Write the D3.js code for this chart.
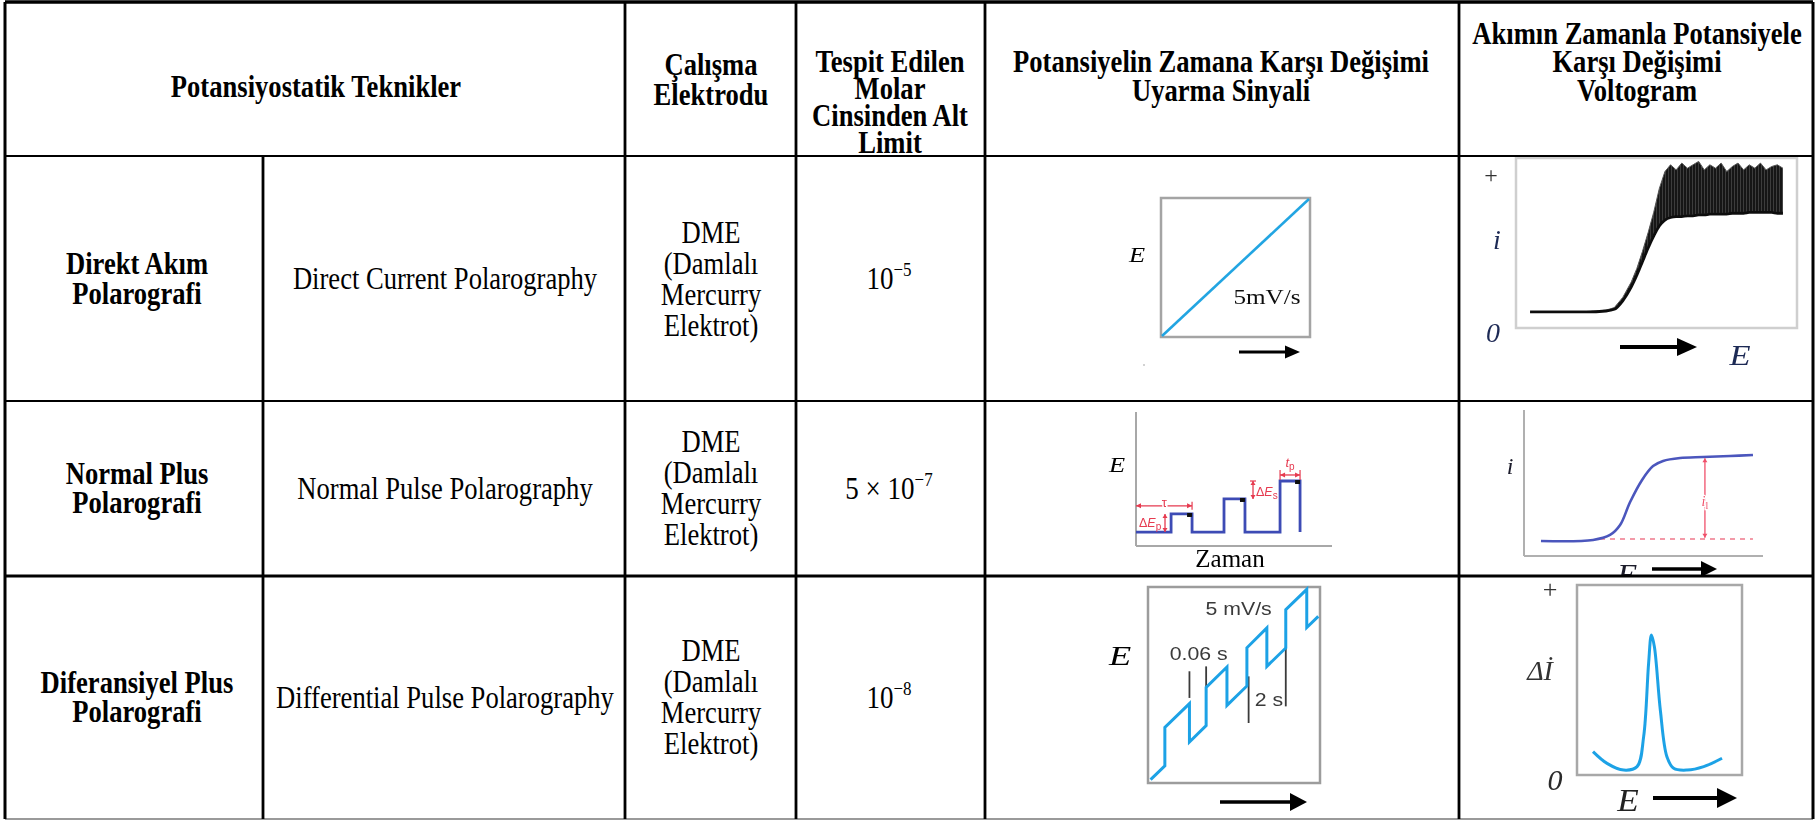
<!DOCTYPE html>
<html>
<head>
<meta charset="utf-8">
<script src="https://cdn.jsdelivr.net/npm/d3@7"></script>
<style>
  html, body { margin: 0; padding: 0; background: #fff; }
  svg { display: block; }
</style>
</head>
<body>
<svg id="chart" width="1816" height="821"></svg>
<script>
// ---------- table text ----------
const headerTexts = [
  ["Potansiyostatik Teknikler"],
  ["Çalışma", "Elektrodu"],
  ["Tespit Edilen", "Molar", "Cinsinden Alt", "Limit"],
  ["Potansiyelin Zamana Karşı Değişimi", "Uyarma Sinyali"],
  ["Akımın Zamanla Potansiyele", "Karşı Değişimi", "Voltogram"]
];
const techniqueTr = [["Direkt Akım", "Polarografi"], ["Normal Plus", "Polarografi"], ["Diferansiyel Plus", "Polarografi"]];
const techniqueEn = ["Direct Current Polarography", "Normal Pulse Polarography", "Differential Pulse Polarography"];
const electrodeLines = ["DME", "(Damlalı", "Mercurry", "Elektrot)"];
const limitMantissa = ["10", "5 × 10", "10"];
const limitExponent = ["−5", "−7", "−8"];

// ---------- direct current: linear sweep and polarogram ----------
const dcSweepT = [0, 100];
const dcSweepE = [0, 100];
const dcE    = [5, 15, 25, 32, 35, 38, 41, 43, 45, 47, 49, 51, 53, 55, 57, 59, 61, 63, 65, 67, 69, 71, 73, 75, 77, 79, 81, 83, 85, 87, 89, 91, 93, 95];
const dcLow  = [9.5, 9.5, 9.5, 10, 11, 16, 24, 31, 39, 47, 54, 60, 63.5, 65, 65.5, 65.5, 66, 66, 66.5, 66.5, 67, 67, 67, 67, 67.5, 67.5, 67.5, 68, 68, 68, 68, 68, 67.5, 67.5];
const dcHigh = [9.5, 9.5, 9.5, 10.5, 12, 18, 27, 35, 45, 56, 68, 82, 92, 96, 93, 97, 94, 96, 98, 93, 96, 94, 97, 92, 95, 97, 93, 96, 94, 97, 93, 95, 96, 94];

// ---------- normal pulse: pulse train and sigmoid wave ----------
const npBase = 10.4;
const npPulseStart = [17.9, 44.9, 73.5];
const npPulseEnd   = [28.6, 55.6, 83.7];
const npPulseLevel = [23.9, 35.1, 48.5];
const npWaveE = [7.1, 28.9, 36, 40.2, 44.4, 49.4, 54, 58.2, 65.3, 74.9, 86.2, 95.8];
const npWaveI = [10.3, 11.0, 14.4, 21.2, 37.0, 52.1, 61.6, 65.1, 67.1, 67.8, 68.5, 69.2];
const npResidual = 11.6;
const npLimitingAt = 75.7;

// ---------- differential pulse: ramp with pulses and peak ----------
const dpT = [1.5, 9.8, 9.8, 24.1, 24.1, 33.8, 33.8, 45.9, 45.9, 57.5, 57.5, 69.1, 69.1, 80.1, 80.1, 92.3, 92.3, 99.0];
const dpE = [1.7, 8.8, 28.4, 40.5, 20.9, 29.3, 48.8, 59.2, 39.6, 49.5, 69.0, 79.1, 59.5, 68.9, 88.4, 98.8, 79.3, 85.0];
const dpPeakE = [9.7, 18.2, 28.3, 36.4, 40.4, 43.4, 45.1, 46.9, 50.5, 54.5, 58.6, 66.7, 76.8, 87.9];
const dpPeakI = [12.3, 6.1, 2.6, 4.4, 20.2, 58.8, 73.7, 67.5, 34.2, 9.6, 3.5, 2.6, 4.4, 8.8];

// ---------- layout ----------
const colEdges = [5, 263, 625, 796, 985, 1459, 1813];
const rowEdges = [2, 156, 401, 576, 819];
const rowCenters = [279, 488.5, 697.5];
const bodyX = [137, 445, 711, 889];
const headX = [316, 711, 890, 1221, 1637];
const headBaselines = [[97], [75, 105], [72, 99, 126, 153], [72, 101], [44, 72, 101]];

const SERIF = "'Liberation Serif', 'Times New Roman', serif";
const SANS = "'Liberation Sans', Arial, sans-serif";
const FS = 26.6, SY = 1.15;

const svg = d3.select("#chart");
const defs = svg.append("defs");
defs.append("filter").attr("id", "soft")
  .append("feGaussianBlur").attr("stdDeviation", 0.45);
const pat = defs.append("pattern").attr("id", "osc")
  .attr("width", 3).attr("height", 5).attr("patternUnits", "userSpaceOnUse");
pat.append("rect").attr("width", 3).attr("height", 5).attr("fill", "#151515");
pat.append("rect").attr("width", 1).attr("height", 5).attr("fill", "#3c3c3c");
defs.append("clipPath").attr("id", "clipRow2")
  .append("rect").attr("x", 1460).attr("y", 402).attr("width", 352).attr("height", 174);

function txt(g, x, y, s, o = {}) {
  return g.append("text")
    .attr("transform", `translate(${x},${y}) scale(${o.sx || 1},${o.sy || 1})`)
    .attr("text-anchor", o.anchor || "middle")
    .style("font-family", o.family || SERIF)
    .style("font-size", (o.size || FS) + "px")
    .style("font-weight", o.weight || "normal")
    .style("font-style", o.style || "normal")
    .attr("fill", o.fill || "#000")
    .text(s);
}

function arrowRight(g, x1, x2, y, w, headLen, half, color = "#000") {
  g.append("line").attr("x1", x1).attr("x2", x2 - headLen + 2).attr("y1", y).attr("y2", y)
    .attr("stroke", color).attr("stroke-width", w);
  g.append("path").attr("d", `M${x2 - headLen},${y - half}L${x2},${y}L${x2 - headLen},${y + half}Z`)
    .attr("fill", color);
}

function redDoubleV(g, x, y1, y2, color) {
  g.append("line").attr("x1", x).attr("x2", x).attr("y1", y1).attr("y2", y2)
    .attr("stroke", color).attr("stroke-width", 1.3);
  const top = Math.min(y1, y2), bot = Math.max(y1, y2);
  g.append("path").attr("d", `M${x - 2.5},${top + 4}L${x},${top}L${x + 2.5},${top + 4}Z`).attr("fill", color);
  g.append("path").attr("d", `M${x - 2.5},${bot - 4}L${x},${bot}L${x + 2.5},${bot - 4}Z`).attr("fill", color);
}
function redDoubleH(g, x1, x2, y, color) {
  g.append("line").attr("x1", x1).attr("x2", x2).attr("y1", y).attr("y2", y)
    .attr("stroke", color).attr("stroke-width", 1.3);
  g.append("path").attr("d", `M${x1 + 5},${y - 2.5}L${x1},${y}L${x1 + 5},${y + 2.5}Z`).attr("fill", color);
  g.append("path").attr("d", `M${x2 - 5},${y - 2.5}L${x2},${y}L${x2 - 5},${y + 2.5}Z`).attr("fill", color);
  [x1, x2].forEach(x => g.append("line").attr("x1", x).attr("x2", x).attr("y1", y - 5).attr("y2", y + 5)
    .attr("stroke", color).attr("stroke-width", 1.2));
}

svg.append("rect").attr("width", 1816).attr("height", 821).attr("fill", "#fff");

// ---------- header text ----------
const headG = svg.append("g");
headerTexts.forEach((lines, c) => {
  lines.forEach((s, i) => txt(headG, headX[c], headBaselines[c][i], s, { weight: "bold", sy: SY }));
});

// ---------- body text ----------
const bodyG = svg.append("g");
rowCenters.forEach((rc, r) => {
  techniqueTr[r].forEach((s, i) => txt(bodyG, bodyX[0], rc + 10 + (i - 0.5) * 29.5, s, { weight: "bold", sy: SY }));
  txt(bodyG, bodyX[1], rc + 10, techniqueEn[r], { sy: SY });
  electrodeLines.forEach((s, i) => txt(bodyG, bodyX[2], rc + 10 + (i - 1.5) * 31, s, { sy: SY }));
  const t = txt(bodyG, bodyX[3], rc + 10, "", { sy: SY, size: 27 });
  t.append("tspan").text(limitMantissa[r]);
  t.append("tspan").attr("dy", -11).style("font-size", "17px").text(limitExponent[r]);
});

// ---------- row 1, signal: linear sweep ----------
{
  const g = svg.append("g").attr("filter", "url(#soft)");
  const x = d3.scaleLinear([0, 100], [1162, 1309]);
  const y = d3.scaleLinear([0, 100], [336, 199]);
  g.append("rect").attr("x", 1161).attr("y", 198).attr("width", 149).attr("height", 139)
    .attr("fill", "none").attr("stroke", "#a4a4a4").attr("stroke-width", 2.5);
  g.append("path").datum(dcSweepT.map((t, i) => [t, dcSweepE[i]]))
    .attr("d", d3.line().x(d => x(d[0])).y(d => y(d[1])))
    .attr("fill", "none").attr("stroke", "#22a5e2").attr("stroke-width", 2.6);
  txt(g, 1137, 262, "E", { style: "italic", size: 22, sx: 1.2 });
  txt(g, 1267, 304, "5mV/s", { size: 21, sx: 1.2, fill: "#111" });
  arrowRight(g, 1239, 1300, 352, 3, 15, 6.5);
  g.append("circle").attr("cx", 1144).attr("cy", 365).attr("r", 0.8).attr("fill", "#999");
}

// ---------- row 1, voltammogram: DC polarogram ----------
{
  const g = svg.append("g").attr("filter", "url(#soft)");
  const x = d3.scaleLinear([0, 100], [1516, 1797]);
  const y = d3.scaleLinear([0, 100], [328, 158]);
  g.append("rect").attr("x", 1516).attr("y", 158).attr("width", 281).attr("height", 170)
    .attr("fill", "none").attr("stroke", "#cfcfcf").attr("stroke-width", 2.5);
  const pts = dcE.map((e, i) => ({ e, lo: dcLow[i], hi: dcHigh[i] }));
  g.append("path").datum(pts)
    .attr("d", d3.area().x(d => x(d.e)).y0(d => y(d.lo)).y1(d => y(d.hi)))
    .attr("fill", "url(#osc)");
  g.append("path").datum(pts)
    .attr("d", d3.line().x(d => x(d.e)).y(d => y(d.hi)))
    .attr("fill", "none").attr("stroke", "#555").attr("stroke-width", 1);
  g.append("path").datum(pts)
    .attr("d", d3.line().x(d => x(d.e)).y(d => y(d.lo)).curve(d3.curveMonotoneX))
    .attr("fill", "none").attr("stroke", "#111").attr("stroke-width", 2.8);
  txt(g, 1491, 183, "+", { size: 24, fill: "#333" });
  txt(g, 1497, 249, "i", { style: "italic", size: 28, fill: "#1f2a55" });
  txt(g, 1493, 342, "0", { style: "italic", size: 28, fill: "#1f2a55" });
  txt(g, 1740, 365, "E", { style: "italic", size: 30, sx: 1.15, fill: "#1f2a55" });
  arrowRight(g, 1620, 1697, 347, 4, 20, 9);
}

// ---------- row 2, signal: normal pulse train ----------
{
  const g = svg.append("g").attr("filter", "url(#soft)");
  const x = d3.scaleLinear([0, 100], [1136, 1332]);
  const y = d3.scaleLinear([0, 100], [546, 412]);
  g.append("line").attr("x1", x(0)).attr("x2", x(0)).attr("y1", 412).attr("y2", 546)
    .attr("stroke", "#a8a8a8").attr("stroke-width", 2);
  g.append("line").attr("x1", x(0)).attr("x2", 1332).attr("y1", 546).attr("y2", 546)
    .attr("stroke", "#a8a8a8").attr("stroke-width", 2);
  const wave = [[0, npBase]];
  npPulseStart.forEach((s, i) => {
    wave.push([s, npBase], [s, npPulseLevel[i]], [npPulseEnd[i], npPulseLevel[i]], [npPulseEnd[i], npBase]);
  });
  g.append("path").datum(wave)
    .attr("d", d3.line().x(d => x(d[0])).y(d => y(d[1])))
    .attr("fill", "none").attr("stroke", "#3c4cb5").attr("stroke-width", 2.8).attr("stroke-linejoin", "miter");
  npPulseEnd.forEach((e, i) => {
    g.append("rect").attr("x", x(e) - 5).attr("y", y(npPulseLevel[i]) - 1).attr("width", 5).attr("height", 4)
      .attr("fill", "#111");
  });
  const red = "#e63a50";
  // tau
  g.append("line").attr("x1", x(0)).attr("x2", x(npPulseEnd[0])).attr("y1", y(30)).attr("y2", y(30))
    .attr("stroke", red).attr("stroke-width", 1.2);
  g.append("path").attr("d", `M${x(0) + 5},${y(30) - 2.5}L${x(0)},${y(30)}L${x(0) + 5},${y(30) + 2.5}Z`).attr("fill", red);
  g.append("path").attr("d", `M${x(npPulseEnd[0]) - 5},${y(30) - 2.5}L${x(npPulseEnd[0])},${y(30)}L${x(npPulseEnd[0]) - 5},${y(30) + 2.5}Z`).attr("fill", red);
  g.append("line").attr("x1", x(npPulseEnd[0])).attr("x2", x(npPulseEnd[0])).attr("y1", y(30) - 4).attr("y2", y(30) + 4)
    .attr("stroke", red).attr("stroke-width", 1.2);
  txt(g, x(14.5), y(30) + 1, "τ", { family: SANS, size: 13, fill: red })
    .attr("stroke", "#fff").attr("stroke-width", 3).style("paint-order", "stroke");
  // delta E pulse
  redDoubleV(g, x(14.8), y(npBase), y(npPulseLevel[0]), red);
  const dp = txt(g, 1139, 527, "", { family: SANS, size: 12.5, fill: red, anchor: "start" });
  dp.append("tspan").text("Δ");
  dp.append("tspan").style("font-style", "italic").text("E");
  dp.append("tspan").attr("dy", 3).style("font-size", "10px").text("p");
  // delta E step
  redDoubleV(g, x(59.7), y(npPulseLevel[1]), y(npPulseLevel[2]), red);
  g.append("line").attr("x1", x(59.7) - 3).attr("x2", x(59.7) + 3).attr("y1", y(npPulseLevel[2])).attr("y2", y(npPulseLevel[2]))
    .attr("stroke", red).attr("stroke-width", 1.2);
  const ds = txt(g, 1256, 496, "", { family: SANS, size: 12.5, fill: red, anchor: "start" });
  ds.append("tspan").text("Δ");
  ds.append("tspan").style("font-style", "italic").text("E");
  ds.append("tspan").attr("dy", 3).style("font-size", "10px").text("s");
  // pulse width
  redDoubleH(g, x(npPulseStart[2]), x(npPulseEnd[2]), y(53), red);
  const tp = txt(g, x(78.6), 467, "", { family: SANS, size: 13, fill: red });
  tp.append("tspan").style("font-style", "italic").text("t");
  tp.append("tspan").attr("dy", 3).style("font-size", "10px").text("p");
  txt(g, 1117, 472, "E", { style: "italic", size: 22, sx: 1.2 });
  txt(g, 1230, 567, "Zaman", { size: 25 });
}

// ---------- row 2, voltammogram: normal pulse wave ----------
{
  const g = svg.append("g").attr("filter", "url(#soft)").attr("clip-path", "url(#clipRow2)");
  const x = d3.scaleLinear([0, 100], [1524, 1763]);
  const y = d3.scaleLinear([0, 100], [556, 410]);
  g.append("line").attr("x1", 1524).attr("x2", 1524).attr("y1", 410).attr("y2", 556)
    .attr("stroke", "#b0b0b0").attr("stroke-width", 2);
  g.append("line").attr("x1", 1524).attr("x2", 1763).attr("y1", 556).attr("y2", 556)
    .attr("stroke", "#b0b0b0").attr("stroke-width", 2);
  g.append("line").attr("x1", x(31.8)).attr("x2", x(95.8)).attr("y1", y(npResidual)).attr("y2", y(npResidual))
    .attr("stroke", "#f07a8c").attr("stroke-width", 1.5).attr("stroke-dasharray", "5,5");
  g.append("path").datum(npWaveE.map((e, i) => [e, npWaveI[i]]))
    .attr("d", d3.line().x(d => x(d[0])).y(d => y(d[1])).curve(d3.curveCatmullRom))
    .attr("fill", "none").attr("stroke", "#4b57bd").attr("stroke-width", 2.6);
  redDoubleV(g, x(npLimitingAt), y(67), y(12.5), "#f0506a");
  const il = txt(g, x(npLimitingAt), 506, "", { size: 14, fill: "#f0506a" });
  il.append("tspan").style("font-style", "italic").text("i");
  il.append("tspan").attr("dy", 3).style("font-size", "10px").text("l");
  il.attr("stroke", "#fff").attr("stroke-width", 2.5).style("paint-order", "stroke");
  txt(g, 1510, 474, "i", { style: "italic", size: 24, fill: "#1a1a2a" });
  txt(g, 1627, 584, "E", { style: "italic", size: 30, sx: 1.1, fill: "#1a1a2a" });
  arrowRight(g, 1652, 1717, 569, 3.5, 16, 8);
}

// ---------- row 3, signal: differential pulse on ramp ----------
{
  const g = svg.append("g").attr("filter", "url(#soft)");
  const x = d3.scaleLinear([0, 100], [1148, 1320]);
  const y = d3.scaleLinear([0, 100], [783, 587]);
  g.append("rect").attr("x", 1148).attr("y", 587).attr("width", 172).attr("height", 196)
    .attr("fill", "none").attr("stroke", "#9c9c9c").attr("stroke-width", 2.5);
  const markers = [[24.1, 43.4, 57], [33.8, 45.9, 59.5], [58.5, 30.6, 54.4], [80.1, 39.1, 69.7]];
  markers.forEach(m => g.append("line").attr("x1", x(m[0])).attr("x2", x(m[0])).attr("y1", y(m[1])).attr("y2", y(m[2]))
    .attr("stroke", "#3a3a3a").attr("stroke-width", 1.8));
  g.append("path").datum(dpT.map((t, i) => [t, dpE[i]]))
    .attr("d", d3.line().x(d => x(d[0])).y(d => y(d[1])))
    .attr("fill", "none").attr("stroke", "#1fa2e6").attr("stroke-width", 3).attr("stroke-linejoin", "miter");
  txt(g, x(52.7), y(85.9), "5 mV/s", { family: SANS, size: 18.5, sx: 1.15, fill: "#3a3a3a" });
  txt(g, x(29.5), y(62.6), "0.06 s", { family: SANS, size: 18.5, sx: 1.15, fill: "#3a3a3a" });
  txt(g, x(70.3), y(39.1), "2 s", { family: SANS, size: 18.5, sx: 1.15, fill: "#3a3a3a" });
  txt(g, 1120, 665, "E", { style: "italic", size: 28, sx: 1.3 });
  arrowRight(g, 1220, 1307, 802, 3.5, 17, 9);
}

// ---------- row 3, voltammogram: differential pulse peak ----------
{
  const g = svg.append("g").attr("filter", "url(#soft)");
  const x = d3.scaleLinear([0, 100], [1577, 1742]);
  const y = d3.scaleLinear([0, 100], [775, 585]);
  g.append("rect").attr("x", 1577).attr("y", 585).attr("width", 165).attr("height", 190)
    .attr("fill", "none").attr("stroke", "#a8a8a8").attr("stroke-width", 2.5);
  g.append("path").datum(dpPeakE.map((e, i) => [e, dpPeakI[i]]))
    .attr("d", d3.line().x(d => x(d[0])).y(d => y(d[1])).curve(d3.curveCatmullRom))
    .attr("fill", "none").attr("stroke", "#1fa2e6").attr("stroke-width", 3);
  txt(g, 1550, 598, "+", { size: 26, fill: "#333" });
  txt(g, 1540, 680, "Δİ", { style: "italic", size: 28, fill: "#333" });
  txt(g, 1555, 790, "0", { style: "italic", size: 30, fill: "#2a2a2a" });
  txt(g, 1628, 811, "E", { style: "italic", size: 32, sx: 1.1, fill: "#222" });
  arrowRight(g, 1653, 1737, 798, 4, 20, 10);
}

// ---------- table rules ----------
const grid = svg.append("g").attr("stroke", "#000");
// outer border
grid.append("line").attr("x1", colEdges[0]).attr("x2", colEdges[6]).attr("y1", rowEdges[0]).attr("y2", rowEdges[0]).attr("stroke-width", 3.5);
grid.append("line").attr("x1", colEdges[0]).attr("x2", colEdges[6]).attr("y1", rowEdges[4]).attr("y2", rowEdges[4]).attr("stroke-width", 2).attr("stroke", "#9a9a9a");
grid.append("line").attr("x1", colEdges[0]).attr("x2", colEdges[0]).attr("y1", rowEdges[0]).attr("y2", rowEdges[4]).attr("stroke-width", 3);
grid.append("line").attr("x1", colEdges[6]).attr("x2", colEdges[6]).attr("y1", rowEdges[0]).attr("y2", rowEdges[4]).attr("stroke-width", 3);
// row separators
[[1, 2], [2, 2], [3, 3]].forEach(([r, w]) =>
  grid.append("line").attr("x1", colEdges[0]).attr("x2", colEdges[6]).attr("y1", rowEdges[r]).attr("y2", rowEdges[r]).attr("stroke-width", w));
// column separators (first one only below the merged header)
grid.append("line").attr("x1", colEdges[1]).attr("x2", colEdges[1]).attr("y1", rowEdges[1]).attr("y2", rowEdges[4]).attr("stroke-width", 2.8);
[2, 3, 4, 5].forEach(c =>
  grid.append("line").attr("x1", colEdges[c]).attr("x2", colEdges[c]).attr("y1", rowEdges[0]).attr("y2", rowEdges[4]).attr("stroke-width", 2.8));
</script>
</body>
</html>
